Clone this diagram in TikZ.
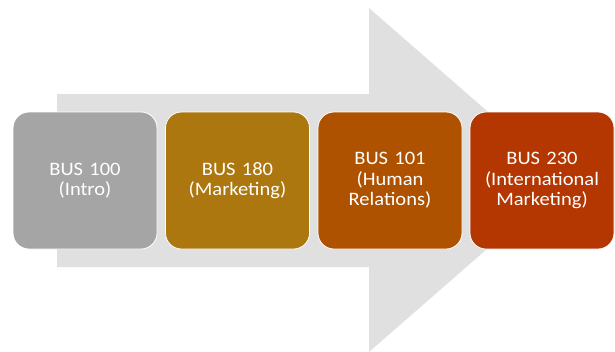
\documentclass[tikz,border=0pt]{standalone}
\usepackage{fontspec}
\setmainfont{Carlito}[FakeStretch=1.08]
\definecolor{arrowgray}{HTML}{E0E0E0}
\definecolor{cA}{HTML}{A5A5A5}
\definecolor{cB}{HTML}{AD7710}
\definecolor{cC}{HTML}{AF5200}
\definecolor{cD}{HTML}{B43600}
\begin{document}
\begin{tikzpicture}[x=1pt,y=-1pt,
  course/.style={draw=white, line width=0.8pt, rounded corners=16pt,
    minimum width=144pt, minimum height=137pt, text width=140pt,
    align=center, text=white, inner sep=0pt,
    font=\fontsize{19}{20.5}\selectfont}]
\useasboundingbox (0,0) rectangle (615,351);
\fill[arrowgray] (57,94) -- (369,94) -- (369,8) -- (566,180) -- (369,352) -- (369,267) -- (57,267) -- cycle;
\node[course, fill=cA] (b1) at (85,180.5) {BUS 100\\(Intro)};
\node[course, fill=cB] (b2) at (237.5,180.5) {BUS 180\\(Marketing)};
\node[course, fill=cC] (b3) at (390,180.5) {BUS 101\\(Human\\Relations)};
\node[course, fill=cD] (b4) at (542,180.5) {BUS 230\\(International\\Marketing)};
\end{tikzpicture}
\end{document}
